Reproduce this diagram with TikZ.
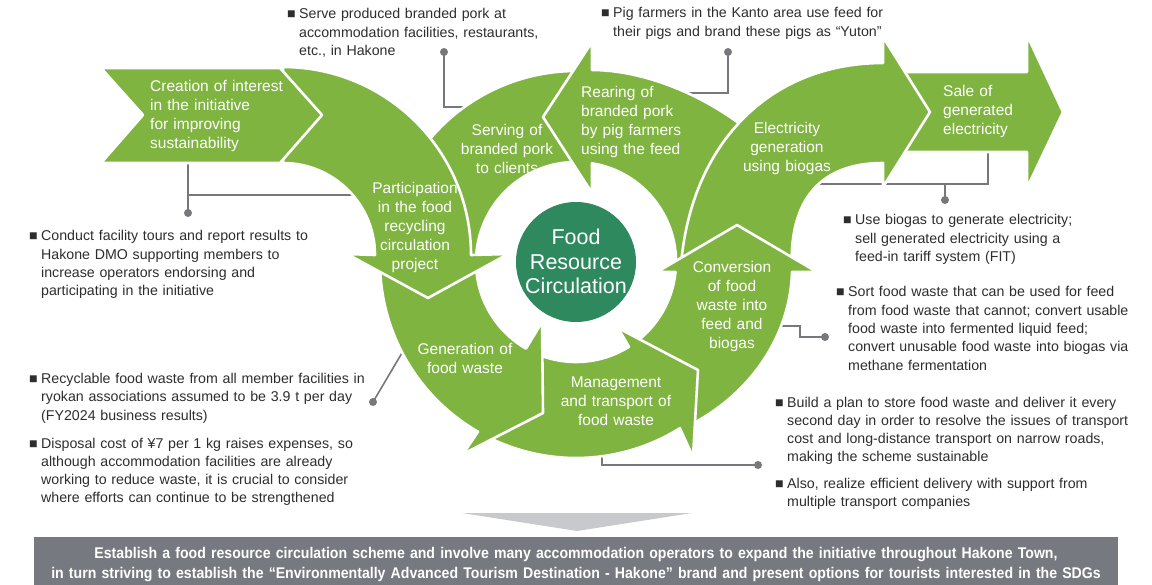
\documentclass[tikz,border=0pt]{standalone}
\usepackage{fontspec}
\setmainfont{Liberation Sans}
\newfontfamily\bandfont[FakeStretch=0.91]{Liberation Sans}

\definecolor{leaf}{RGB}{128,180,65}
\definecolor{deep}{RGB}{46,138,94}
\definecolor{wire}{RGB}{118,120,126}
\definecolor{ink}{RGB}{45,45,45}
\definecolor{slate}{RGB}{118,121,128}
\definecolor{pale}{RGB}{200,201,204}

% 箇条書きの黒四角（ぶら下げ）
\newcommand\bul{\leftskip=12pt\leavevmode\llap{\makebox[12pt][l]{■}}}

\begin{document}
\begin{tikzpicture}[x=1pt, y=-1pt,
  blk/.style={fill=leaf, draw=white, line width=2.6pt, line join=round},
  lbl/.style={text=white, font=\fontsize{15.5}{18.8}\selectfont, align=center,
    text width=160pt, inner sep=0pt, anchor=base},
  lbll/.style={lbl, align=left, anchor=base west},
  note/.style={text=ink, font=\fontsize{14.2}{18.3}\selectfont, align=left,
    text width=420pt, inner sep=0pt, anchor=base west},
  lead/.style={draw=wire, line width=1.6pt},
  pin/.style={circle, fill=wire, inner sep=0pt, minimum size=8pt}]
  \useasboundingbox (0,0) rectangle (1152,585);

  % 引き出し線（図形の下に描く）
  \node[pin] (pServe) at (444,52) {};
  \coordinate (eServe) at (470,107);
  \draw[lead] (pServe.center) |- (eServe);

  \node[pin] (pRear) at (728,52) {};
  \coordinate (eRear) at (670,93);
  \draw[lead] (pRear.center) |- (eRear);

  \coordinate (eCreate) at (188,160);
  \node[pin] (pCreate) at (188,213) {};
  \coordinate (kPart) at (188,195);
  \coordinate (ePart) at (360,195);
  \draw[lead] (eCreate) -- (pCreate.center);
  \draw[lead] (kPart) -- (ePart);

  \node[pin] (pGen) at (373,402) {};
  \coordinate (eGen) at (412,336);
  \draw[lead] (pGen.center) -- (eGen);

  \node[pin] (pMan) at (758,465) {};
  \coordinate (eMan) at (602,450);
  \draw[lead] (eMan) |- (pMan.center);

  \node[pin] (pConv) at (825,337) {};
  \coordinate (eConv) at (770,326);
  \draw[lead] (eConv) -- (800,326) -- (800,337) -- (pConv.center);

  \node[pin] (pElec) at (945,200) {};
  \coordinate (eElec) at (815,184);
  \coordinate (eSale) at (988,150);
  \draw[lead] (eElec) -| (eSale);
  \draw[lead] (pElec.center) -- (pElec.center |- eElec);

  % 提供（中心 (576,262) の環）
  \begin{scope}[shift={(576,262)}]
    \draw[blk] (-180:100) arc[start angle=-180, end angle=-75, radius=100]
      -- (-75:191) arc[start angle=-75, end angle=-180, radius=191] -- cycle;
  \end{scope}
  % 飼育
  \draw[blk] (592,42) -- (543,117) -- (592,193) -- (592,163.3)
    arc[start angle=-80.8, end angle=5, radius=100]
    -- (770,260) -- (760,140)
    .. controls (705,92) and (640,70) .. (592,70) -- cycle;

  % 売電
  \draw[blk] (890,72) -- (1027,72) -- (1027,35) -- (1063,112) -- (1027,188)
    -- (1027,152) -- (890,152) -- cycle;
  % 発電
  \draw[blk] (883,163) -- (883,187) -- (930,112) -- (883,37) -- (883,63)
    .. controls (765,63) and (685,150) .. (680,280) -- (792,272)
    .. controls (788,200) and (820,163) .. (883,163) -- cycle;

  \begin{scope}[shift={(576,262)}]
    % 飼料化・バイオガス化
    \draw[blk] (62:100) arc[start angle=62, end angle=5.74, radius=100]
      -- (81,10) -- (161,-37) -- (241,10) -- (216,10)
      .. controls (214,78) and (169,143) .. (62:196) -- cycle;
    % 管理・運搬
    \draw[blk] (125:100) arc[start angle=125, end angle=58, radius=100]
      -- (42,66) -- (122,108) -- (117,195)
      -- (58:196) arc[start angle=58, end angle=125, radius=196] -- cycle;
    % 発生
    \draw[blk] (180:100) arc[start angle=180, end angle=120, radius=100]
      -- (-34,60) -- (-33,151) -- (-113,192)
      -- (120:196) arc[start angle=120, end angle=180, radius=196] -- cycle;
  \end{scope}

  % 参画
  \draw[blk] (283,163) arc[start angle=-90, end angle=0, radius=92]
    -- (347,254) -- (428,298) -- (508,254) -- (471,255)
    arc[start angle=0, end angle=-90, radius=188] -- cycle;
  % 関心の創出
  \draw[blk] (101,68) -- (280,68) -- (322,115) -- (280,163) -- (101,163)
    -- (143,115) -- cycle;

  % 中央の円
  \fill[deep] (576,262) circle (60);

  % 図形内のラベル
  \node[lbll] (creation) at (150,92) {Creation of interest\\in the initiative\\for improving\\sustainability};
  \node[lbl] (participation) at (415,194) {Participation\\in the food\\recycling\\circulation\\project};
  \node[lbl] (serving) at (507,136) {Serving of\\branded pork\\to clients};
  \node[lbll] (rearing) at (581,98) {Rearing of\\branded pork\\by pig farmers\\using the feed};
  \node[lbl] (electricity) at (787,134) {Electricity\\generation\\using biogas};
  \node[lbll] (sale) at (943,97) {Sale of\\generated\\electricity};
  \node[lbl] (conversion) at (732,273) {Conversion\\of food\\waste into\\feed and\\biogas};
  \node[lbl] (generation) at (465,355) {Generation of\\food waste};
  \node[lbl] (management) at (616,388) {Management\\and transport of\\food waste};
  \node[lbl, font=\fontsize{21.5}{24.5}\selectfont] (hub) at (576,245) {Food\\Resource\\Circulation};

  % 説明文
  \node[note] (nServe) at (287,19) {\bul Serve produced branded pork at\\accommodation facilities, restaurants,\\etc., in Hakone\par};
  \node[note] (nRear) at (601,18) {\bul Pig farmers in the Kanto area use feed for\\their pigs and brand these pigs as “Yuton”\par};
  \node[note] (nCreate) at (29,241) {\bul Conduct facility tours and report results to\\Hakone DMO supporting members to\\increase operators endorsing and\\participating in the initiative\par};
  \node[note] (nGen) at (29,383.5) {\bul Recyclable food waste from all member facilities in\\ryokan associations assumed to be 3.9 t per day\\(FY2024 business results)\par};
  \node[note] (nCost) at (29,448) {\bul Disposal cost of ¥7 per 1 kg raises expenses, so\\although accommodation facilities are already\\working to reduce waste, it is crucial to consider\\where efforts can continue to be strengthened\par};
  \node[note] (nElec) at (843,225) {\bul Use biogas to generate electricity;\\sell generated electricity using a\\feed-in tariff system (FIT)\par};
  \node[note] (nConv) at (836,297) {\bul Sort food waste that can be used for feed\\from food waste that cannot; convert usable\\food waste into fermented liquid feed;\\convert unusable food waste into biogas via\\methane fermentation\par};
  \node[note] (nMan) at (775,407) {\bul Build a plan to store food waste and deliver it every\\second day in order to resolve the issues of transport\\cost and long-distance transport on narrow roads,\\making the scheme sustainable\par};
  \node[note] (nTrans) at (775,488) {\bul Also, realize efficient delivery with support from\\multiple transport companies\par};

  % 下の帯
  \fill[pale] (462,513) -- (692,513) -- (577,531) -- cycle;
  \fill[slate] (34,537) rectangle (1118,590);
  \node[text=white, font=\bandfont\bfseries\fontsize{15.5}{20}\selectfont, align=center,
    text width=1100pt, inner sep=0pt, anchor=base] (goal) at (576,558)
    {Establish a food resource circulation scheme and involve many accommodation operators to expand the initiative throughout Hakone Town,\\in turn striving to establish the “Environmentally Advanced Tourism Destination - Hakone” brand and present options for tourists interested in the SDGs};
\end{tikzpicture}
\end{document}
